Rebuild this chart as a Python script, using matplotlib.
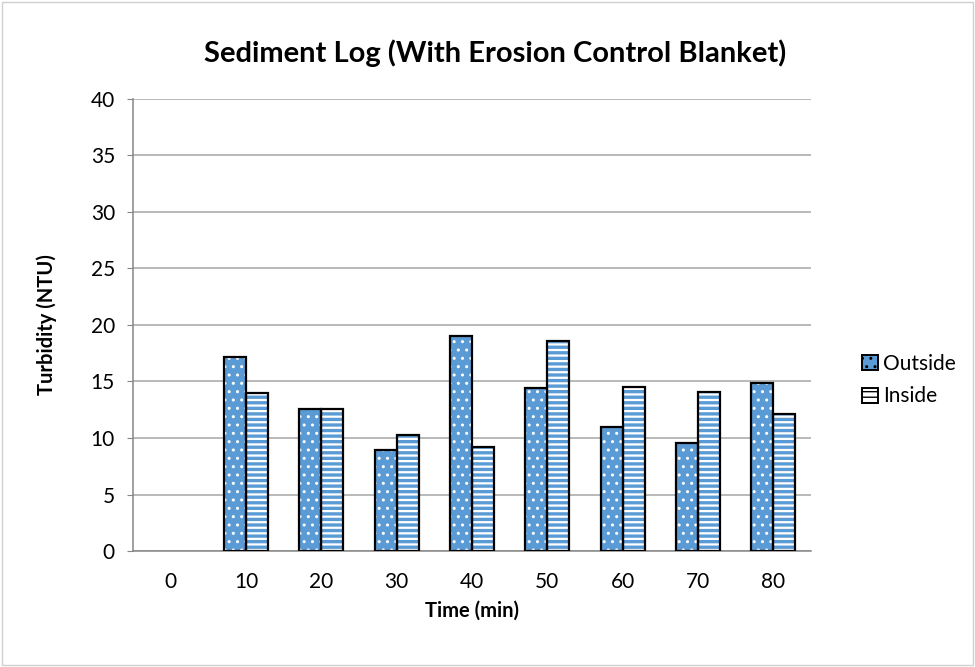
import numpy as np
import matplotlib
matplotlib.use("Agg")
import matplotlib.pyplot as plt
from matplotlib.patches import Rectangle

# Turbidity readings (NTU) taken every 10 minutes
times = ["0", "10", "20", "30", "40", "50", "60", "70", "80"]
outside = [0, 17.15, 12.6, 8.9, 19.0, 14.4, 11.0, 9.6, 14.9]
inside = [0, 14.0, 12.6, 10.3, 9.2, 18.6, 14.55, 14.05, 12.15]
y_ticks = [0, 5, 10, 15, 20, 25, 30, 35, 40]

BLUE = "#5b9bd5"
GRID = "#a6a6a6"
AXIS = "#868686"

plt.rcParams["font.family"] = ["Lato", "DejaVu Sans"]

fig = plt.figure(figsize=(9.75, 6.67), dpi=100)
ax = fig.add_axes([0.1364, 0.1739, 0.6954, 0.6777])

x = np.arange(len(times))
w = 0.29

def draw_bars(xpos, vals, face, hatch, hatch_col, hatch_lw):
    xs = [p for p, v in zip(xpos, vals) if v > 0]
    vs = [v for v in vals if v > 0]
    with plt.rc_context({"hatch.linewidth": hatch_lw}):
        ax.bar(xs, vs, w, color=face, edgecolor=hatch_col, hatch=hatch,
               linewidth=0, zorder=3)
    ax.bar(xs, vs, w, fill=False, edgecolor="black", linewidth=1.6, zorder=4)

draw_bars(x - w / 2, outside, BLUE, "..", "white", 1.0)
draw_bars(x + w / 2, inside, "white", "---", BLUE, 2.4)

ax.set_xlim(-0.5, len(times) - 0.5)
ax.set_ylim(0, 40)
ax.set_yticks(y_ticks)
ax.set_xticks(x)
ax.set_xticklabels(times)
ax.yaxis.grid(True, color=GRID, linewidth=1.1, zorder=0)
ax.set_axisbelow(True)

for side in ("top", "right"):
    ax.spines[side].set_visible(False)
for side in ("left", "bottom"):
    ax.spines[side].set_color(AXIS)
    ax.spines[side].set_linewidth(1.1)

ax.tick_params(axis="y", length=4, color=AXIS, labelsize=15, pad=9)
ax.tick_params(axis="x", length=0, labelsize=15, pad=15)

ax.set_xlabel("Time (min)", fontsize=14.5, fontweight="bold", labelpad=6)
ax.set_ylabel("Turbidity (NTU)", fontsize=14.5, fontweight="bold", labelpad=24)
fig.text(0.508, 0.92, "Sediment Log (With Erosion Control Blanket)",
         ha="center", va="center", fontsize=21, fontweight="bold")

# legend proxies matching the bar fills
h_out = Rectangle((0, 0), 1, 1, facecolor=BLUE, edgecolor="black",
                  hatch="..", linewidth=1.4)
h_in = Rectangle((0, 0), 1, 1, facecolor="white", edgecolor="black",
                 hatch="---", linewidth=1.4)
leg = fig.legend([h_out, h_in], ["Outside", "Inside"], loc="center left",
                 bbox_to_anchor=(0.865, 0.43), frameon=False, fontsize=15,
                 handlelength=0.75, handleheight=0.75, handletextpad=0.25,
                 labelspacing=0.6)

# light frame around the chart area
fig.add_artist(Rectangle((0.002, 0.003), 0.996, 0.994, transform=fig.transFigure,
                         fill=False, edgecolor="#d0d0d0", linewidth=1.0))

fig.savefig("out.png", dpi=100)
